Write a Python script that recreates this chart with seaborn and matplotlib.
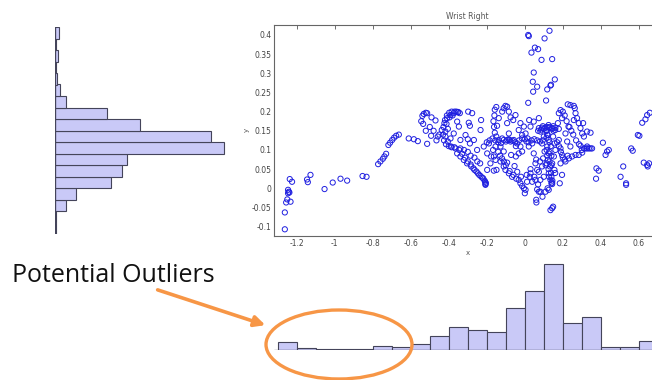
import numpy as np
import pandas as pd
import matplotlib
matplotlib.use("Agg")
import matplotlib.pyplot as plt
from matplotlib.patches import Ellipse, FancyArrowPatch
import seaborn as sns

# ---------------- data ----------------
title = "Wrist Right"
annotation_text = "Potential Outliers"

scatter_x = [
    -1.263, -1.263, -1.256, -1.233, -1.25, -1.246, -1.242, -1.246, -1.239, -1.237, -1.225,
    -1.146, -1.142, -1.128, -1.054, -1.011, -0.970, -0.935, -0.854, -0.833,
    -0.772, -0.760, -0.747, -0.739, -0.730, -0.718, -0.709, -0.698, -0.688, -0.677, -0.663,
    -0.611, -0.584, -0.563,
    -0.539, -0.532, -0.521, -0.514, -0.535, -0.521, -0.514, -0.493, -0.491, -0.47, -0.458,
    -0.437, -0.423, -0.409, -0.391, -0.374, -0.353, -0.342, -0.418, -0.418, -0.405, -0.388,
    -0.365, -0.339, -0.391, -0.374, -0.356, -0.347, -0.339, -0.312, -0.298, -0.277, -0.295,
    -0.289, -0.300, -0.289,
    -0.356, -0.339, -0.321, -0.304, -0.282, -0.265, -0.247, -0.233, -0.219, -0.209, -0.207, -0.207,
    -0.268, -0.251, -0.233, -0.23, -0.216, -0.198, -0.189, -0.177, -0.167, -0.154, -0.149, -0.146,
    -0.137, -0.128, -0.119, -0.111, -0.102, -0.093, -0.084, -0.075, -0.061, -0.049, -0.093, -0.084,
    -0.079, -0.072, -0.111, -0.102, -0.093, -0.084, -0.067, -0.054, -0.04, -0.032, -0.023, -0.014,
    -0.005, 0.0, 0.004, -0.137, -0.128, -0.119, -0.111, -0.093, -0.075, -0.058, -0.04, -0.023,
    -0.014, -0.032, -0.047, -0.047, -0.163, -0.154, -0.181, -0.198, -0.163, -0.111,
    0.018, 0.021, 0.104, 0.13, 0.035, 0.053, 0.07, 0.088, 0.144, 0.047, 0.042, 0.044, 0.065,
    0.118, 0.135, 0.138, 0.158, 0.112, 0.018, 0.023, 0.047, 0.074,
    0.074, 0.091, 0.109, 0.126, 0.144, 0.161, 0.179, 0.082, 0.116, 0.151,
    0.121, 0.126, 0.118, 0.126, 0.121, 0.132, 0.126, 0.135, 0.14,
    0.149, 0.156, 0.161, 0.153, 0.144, 0.156, 0.1, 0.091, 0.104, 0.096,
    0.009, 0.021, 0.03, 0.039, 0.047, 0.056, 0.065, 0.03, 0.039, 0.026, 0.012, 0.056, 0.074,
    0.082, 0.091, 0.06, 0.061, 0.065, 0.074, 0.082, 0.093, 0.109, 0.126, 0.135, 0.144, 0.149,
    0.144, 0.144,
    0.179, 0.188, 0.196, 0.174, 0.179, 0.188, 0.196, 0.188, 0.196, 0.184, 0.214, 0.232, 0.249,
    0.267, 0.284, 0.302, 0.226, 0.24, 0.258, 0.263, 0.267, 0.275, 0.284, 0.293, 0.302, 0.311,
    0.258, 0.23, 0.214, 0.223, 0.24, 0.293, 0.328, 0.307, 0.328, 0.346,
    0.311, 0.319, 0.328, 0.337, 0.346, 0.354,
    0.411, 0.425, 0.433, 0.442, 0.377, 0.389, 0.375, 0.504, 0.518, 0.533, 0.533, 0.56, 0.568,
    0.595, 0.603, 0.618, 0.635, 0.644, 0.658, 0.626, 0.644, 0.647, 0.654,
    -0.032, -0.023, -0.005, 0.004, -0.014,
    # denser core
    -0.43, -0.428, -0.42, -0.41, -0.398, -0.385, -0.37, -0.36, -0.35,
    -0.425, -0.415, -0.4, -0.385, -0.37, -0.405, -0.412, -0.396, -0.38,
    -0.345, -0.33, -0.315, -0.3, -0.285, -0.27, -0.255, -0.24, -0.225, -0.212, -0.205,
    -0.32, -0.3, -0.285, -0.265, -0.25, -0.235,
    -0.2, -0.185, -0.17, -0.155, -0.14, -0.125, -0.1, -0.085, -0.065, -0.05, -0.03, -0.015, 0.0, 0.015,
    -0.16, -0.165, -0.162, -0.158, -0.15, -0.14, -0.13, -0.12, -0.11, -0.1, -0.158, -0.15,
    -0.08, -0.06, -0.045, -0.02, 0.01, 0.03, 0.05, 0.07, 0.1, 0.12, 0.14, 0.16, 0.11, 0.08, 0.06,
    0.112, 0.118, 0.114, 0.13, 0.137, 0.115, 0.13, 0.14, 0.118, 0.13, 0.14, 0.115, 0.125, 0.138, 0.128, 0.145,
    0.07, 0.085, 0.1, 0.115, 0.13, 0.145, 0.16, 0.095, 0.125, 0.15,
    0.02, 0.035, 0.05, 0.065, 0.08, 0.095,
    0.2, 0.21, 0.22, 0.235, 0.245, 0.255, 0.27, 0.285, 0.3, 0.17, 0.18, 0.19, 0.2, 0.21, 0.225,
    -0.545, -0.5, -0.48, -0.465, -0.45,
]
scatter_y = [
    -0.107, -0.063, -0.037, -0.035, -0.029, -0.013, -0.009, -0.004, -0.011, 0.024, 0.017,
    0.023, 0.016, 0.035, -0.002, 0.015, 0.025, 0.020, 0.032, 0.030,
    0.063, 0.070, 0.077, 0.083, 0.090, 0.113, 0.119, 0.126, 0.132, 0.137, 0.140,
    0.130, 0.128, 0.123,
    0.189, 0.194, 0.197, 0.196, 0.168, 0.150, 0.116, 0.137, 0.185, 0.177, 0.135,
    0.152, 0.170, 0.183, 0.191, 0.196, 0.198, 0.196, 0.148, 0.135, 0.122, 0.109,
    0.104, 0.104, 0.130, 0.143, 0.174, 0.161, 0.126, 0.139, 0.200, 0.196, 0.171,
    0.163, 0.128, 0.117,
    0.091, 0.083, 0.074, 0.065, 0.057, 0.048, 0.039, 0.032, 0.026, 0.017, 0.011, 0.009,
    0.126, 0.100, 0.152, 0.178, 0.109, 0.091, 0.117, 0.083, 0.100, 0.109, 0.048, 0.163,
    0.183, 0.070, 0.200, 0.209, 0.215, 0.213, 0.200, 0.185, 0.178, 0.191, 0.170, 0.143,
    0.126, 0.087, 0.096, 0.048, 0.067, 0.039, 0.030, 0.058, 0.043, 0.022, 0.013, 0.006,
    0.0, -0.013, -0.004, 0.126, 0.109, 0.130, 0.126, 0.126, 0.122, 0.126, 0.117, 0.109,
    0.096, 0.091, 0.083, 0.110, 0.083, 0.074, 0.065, 0.048, 0.046, 0.057,
    0.400, 0.397, 0.391, 0.411, 0.354, 0.367, 0.363, 0.335, 0.337, 0.302, 0.278, 0.252, 0.265,
    0.258, 0.268, 0.270, 0.284, 0.229, 0.223, 0.178, 0.174, 0.183,
    0.157, 0.158, 0.158, 0.158, 0.157, 0.158, 0.155, 0.148, 0.150, 0.150,
    0.139, 0.126, 0.109, 0.091, 0.074, 0.057, 0.039, 0.022, 0.013,
    0.135, 0.117, 0.100, 0.083, 0.065, 0.048, 0.135, 0.117, 0.096, 0.078,
    0.122, 0.109, 0.161, 0.117, 0.091, 0.065, 0.048, 0.039, 0.017, 0.030, 0.017, 0.022, 0.043,
    0.022, 0.057, -0.030, -0.037, -0.003, -0.009, -0.009, -0.022, -0.009, -0.004, -0.057, -0.052, -0.048,
    0.015, 0.011,
    0.196, 0.204, 0.183, 0.170, 0.126, 0.104, 0.087, 0.065, 0.035, 0.013, 0.070, 0.078, 0.083,
    0.087, 0.087, 0.093, 0.219, 0.217, 0.215, 0.209, 0.196, 0.183, 0.170, 0.157, 0.143, 0.135,
    0.178, 0.161, 0.143, 0.122, 0.109, 0.111, 0.109, 0.170, 0.148, 0.145,
    0.104, 0.104, 0.104, 0.104, 0.104, 0.104,
    0.119, 0.087, 0.096, 0.100, 0.052, 0.046, 0.025, 0.030, 0.057, 0.013, 0.009, 0.104, 0.098,
    0.139, 0.137, 0.171, 0.180, 0.191, 0.197, 0.067, 0.061, 0.057, 0.065,
    0.152, 0.170, 0.161, 0.143, 0.139,
    # denser core
    0.14, 0.16, 0.178, 0.19, 0.197, 0.2, 0.2, 0.2, 0.199,
    0.125, 0.115, 0.11, 0.107, 0.107, 0.155, 0.168, 0.185, 0.19,
    0.1, 0.09, 0.08, 0.07, 0.062, 0.052, 0.044, 0.035, 0.028, 0.02, 0.014,
    0.1, 0.095, 0.085, 0.08, 0.07, 0.065,
    0.12, 0.125, 0.13, 0.125, 0.12, 0.118, 0.122, 0.128, 0.124, 0.12, 0.125, 0.13, 0.128, 0.13,
    0.19, 0.175, 0.16, 0.145, 0.135, 0.095, 0.085, 0.078, 0.07, 0.06, 0.205, 0.212,
    0.045, 0.035, 0.025, 0.03, 0.035, 0.05, 0.03, 0.01, 0.03, 0.0, 0.03, 0.04, 0.06, 0.07, 0.075,
    0.15, 0.14, 0.132, 0.12, 0.11, 0.1, 0.095, 0.085, 0.085, 0.07, 0.06, 0.065, 0.05, 0.04, 0.03, 0.02,
    0.15, 0.153, 0.155, 0.16, 0.16, 0.155, 0.152, 0.162, 0.165, 0.162,
    0.12, 0.125, 0.128, 0.125, 0.122, 0.125,
    0.2, 0.19, 0.175, 0.16, 0.15, 0.14, 0.125, 0.115, 0.1, 0.12, 0.11, 0.095, 0.08, 0.075, 0.085,
    0.175, 0.16, 0.15, 0.125, 0.14,
]

# y-marginal histogram (bins from bottom to top)
y_bin_lo, y_bin_hi = -0.108, 0.412
y_counts = [1, 1, 11, 21, 56, 67, 72, 169, 156, 85, 52, 11, 5, 2, 1, 3, 1, 4]

# x-marginal histogram (bins of width 0.1 starting at -1.3)
x_bin_lo, x_bin_hi = -1.3, 0.7
x_counts = [7.7, 1.7, 1, 1, 1, 4.3, 2.7, 5.7, 14.3, 22.7, 20, 18, 42.3, 59.3, 85.7, 27.3, 33.3, 3.3, 3.3, 9]

x_ticks = [-1.2, -1, -0.8, -0.6, -0.4, -0.2, 0, 0.2, 0.4, 0.6]
x_tick_labels = ["-1.2", "-1", "-0.8", "-0.6", "-0.4", "-0.2", "0", "0.2", "0.4", "0.6"]
y_ticks = [-0.1, -0.05, 0, 0.05, 0.1, 0.15, 0.2, 0.25, 0.3, 0.35, 0.4]
y_tick_labels = ["-0.1", "-0.05", "0", "0.05", "0.1", "0.15", "0.2", "0.25", "0.3", "0.35", "0.4"]

# ---------------- style ----------------
sns.set_style("white")
plt.rcParams["font.family"] = ["DejaVu Sans"]

W, H = 652, 380
fig = plt.figure(figsize=(W / 100, H / 100), dpi=100)

def px_rect(left, top, width, height):
    return [left / W, 1 - (top + height) / H, width / W, height / H]

bar_face = "#c9c9f7"
bar_edge = "#44445a"
tick_col = "#555555"

# scatter axes
xlim = (-1.32, 0.72)
ylim = (-0.124, 0.426)
x_px_per_unit = 190.0
y_px_per_unit = 383.3
ax = fig.add_axes(px_rect(274, 25, (xlim[1] - xlim[0]) * x_px_per_unit,
                          (ylim[1] - ylim[0]) * y_px_per_unit))
df = pd.DataFrame({"x": scatter_x, "y": scatter_y})
sns.scatterplot(data=df, x="x", y="y", ax=ax, marker="o", s=14,
                facecolors="none", edgecolor="#1f1fe0", linewidth=0.7)
ax.set_xlim(*xlim)
ax.set_ylim(*ylim)
ax.set_xticks(x_ticks)
ax.set_xticklabels(x_tick_labels)
ax.set_yticks(y_ticks)
ax.set_yticklabels(y_tick_labels)
ax.tick_params(direction="in", length=3, width=0.6, colors=tick_col,
               labelsize=5.5, labelcolor="#444444", top=True, right=True, pad=2)
for sp in ax.spines.values():
    sp.set_color("#666666")
    sp.set_linewidth(0.8)
ax.set_xlabel("x", fontsize=5, color="#555555", labelpad=2)
ax.set_ylabel("y", fontsize=5, color="#555555", labelpad=1)
ax.set_title(title, fontsize=5.5, color="#555555", pad=4)

# left (y) histogram
y_edges = list(np.linspace(y_bin_lo, y_bin_hi, len(y_counts) + 1))
ydf = pd.DataFrame({"center": (np.array(y_edges[:-1]) + np.array(y_edges[1:])) / 2,
                    "count": y_counts})
axl = fig.add_axes(px_rect(55.3, 27, 180, 207))
sns.histplot(data=ydf, y="center", weights="count", bins=y_edges, ax=axl,
             color=bar_face, alpha=1, edgecolor=bar_edge, linewidth=0.8)
axl.set_ylim(y_edges[0], y_edges[-1])
axl.set_xlim(0, 180)
axl.axvline(0, color=bar_edge, lw=0.9)
axl.axis("off")

# bottom (x) histogram
x_edges = list(np.linspace(x_bin_lo, x_bin_hi, len(x_counts) + 1))
xdf = pd.DataFrame({"center": (np.array(x_edges[:-1]) + np.array(x_edges[1:])) / 2,
                    "count": x_counts})
axb = fig.add_axes(px_rect(274, 260, (xlim[1] - xlim[0]) * x_px_per_unit, 90))
sns.histplot(data=xdf, x="center", weights="count", bins=x_edges, ax=axb,
             color=bar_face, alpha=1, edgecolor=bar_edge, linewidth=0.8)
axb.set_xlim(*xlim)
axb.set_ylim(0, 90)
axb.axhline(0, color=bar_edge, lw=0.9)
axb.axis("off")

# annotation
orange = "#F79646"
fig.text(12 / W, 1 - 282 / H, annotation_text, fontsize=18,
         family=["Open Sans", "DejaVu Sans"],
         color="#111111", va="baseline", ha="left")
arrow = FancyArrowPatch((155 / W, 1 - 289 / H), (268 / W, 1 - 326 / H),
                        transform=fig.transFigure, arrowstyle="-|>",
                        mutation_scale=16, color=orange, lw=2.6)
fig.add_artist(arrow)
ell = Ellipse((339 / W, 1 - 344.5 / H), 146 / W, 69 / H, transform=fig.transFigure,
              fill=False, edgecolor=orange, lw=2.4)
fig.add_artist(ell)

fig.savefig("out.png", dpi=100)
